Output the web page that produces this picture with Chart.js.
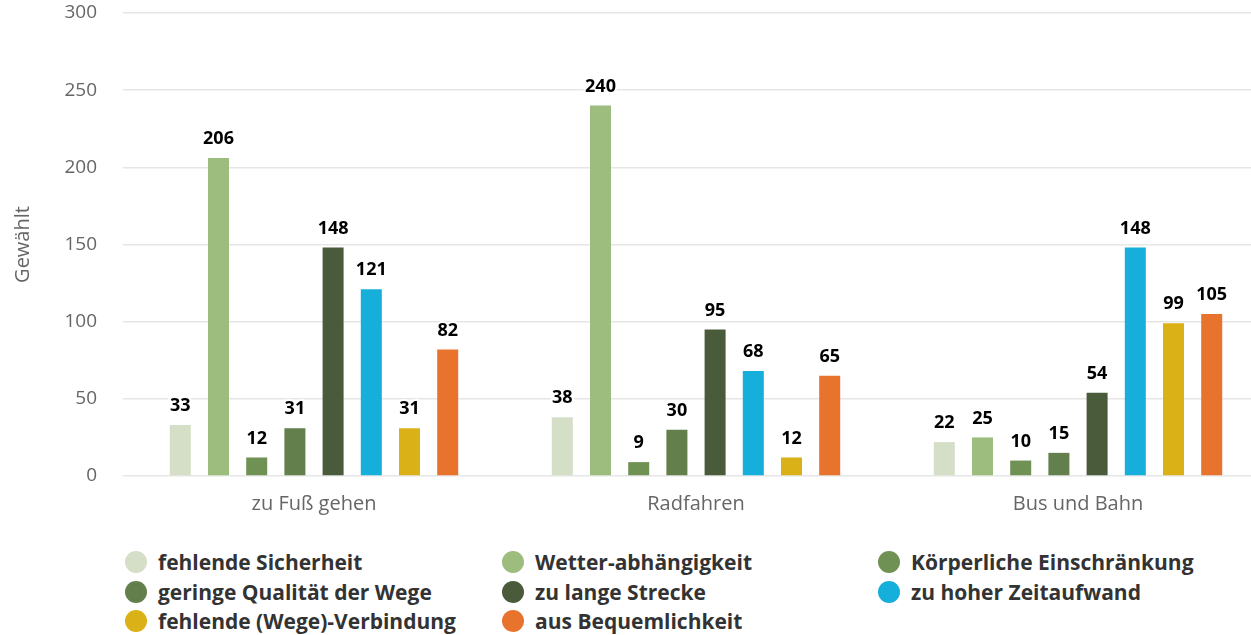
<!DOCTYPE html>
<html>
<head>
<meta charset="utf-8">
<script src="https://cdn.jsdelivr.net/npm/chart.js@4/dist/chart.umd.min.js"></script>
<style>
  body { margin: 0; background: #fff; overflow: hidden; font-family: "Open Sans", sans-serif; }
  #wrap { position: relative; width: 1269px; height: 530px; }
  #legend { position: absolute; left: 125px; top: 548px; width: 1126px; }
  .item { position: absolute; display: flex; align-items: center; font-weight: bold; font-size: 21px; color: #333; white-space: nowrap; }
  .dot { width: 22px; height: 22px; border-radius: 50%; margin-right: 11px; }
</style>
</head>
<body>
<div id="wrap"><canvas id="chart"></canvas></div>
<div id="legend"></div>
<script>
var categories = ['zu Fuß gehen', 'Radfahren', 'Bus und Bahn'];

var seriesNames = [
  'fehlende Sicherheit',
  'Wetter-abhängigkeit',
  'Körperliche Einschränkung',
  'geringe Qualität der Wege',
  'zu lange Strecke',
  'zu hoher Zeitaufwand',
  'fehlende (Wege)-Verbindung',
  'aus Bequemlichkeit'
];

var sicherheit  = [33, 38, 22];
var wetter      = [206, 240, 25];
var koerper     = [12, 9, 10];
var qualitaet   = [31, 30, 15];
var strecke     = [148, 95, 54];
var zeitaufwand = [121, 68, 148];
var verbindung  = [31, 12, 99];
var bequem      = [82, 65, 105];

var seriesValues = [sicherheit, wetter, koerper, qualitaet, strecke, zeitaufwand, verbindung, bequem];

var colours = ['#d5dfc7', '#9dbd7e', '#6f9254', '#637f4c', '#4a5b3c', '#16aedb', '#dbb118', '#e8732c'];

var yTicks = [0, 50, 100, 150, 200, 250, 300];

// value labels above each bar
var barValues = {
  id: 'barValues',
  afterDatasetsDraw: function(chart) {
    var ctx = chart.ctx;
    ctx.save();
    ctx.font = 'bold 18px "Open Sans"';
    ctx.textAlign = 'center';
    ctx.textBaseline = 'bottom';
    ctx.lineWidth = 4;
    ctx.strokeStyle = '#fff';
    ctx.fillStyle = '#000';
    chart.data.datasets.forEach(function(ds, i) {
      chart.getDatasetMeta(i).data.forEach(function(bar, j) {
        var txt = String(ds.data[j]);
        ctx.strokeText(txt, bar.x, bar.y - 10);
        ctx.fillText(txt, bar.x, bar.y - 10);
      });
    });
    ctx.restore();
  }
};

var datasets = [];
seriesNames.forEach(function(name, i) {
  datasets.push({
    label: name,
    data: seriesValues[i],
    backgroundColor: colours[i],
    borderWidth: 0,
    categoryPercentage: 0.8,
    barPercentage: 0.55
  });
});

var myChart = new Chart(document.getElementById('chart'), {
  type: 'bar',
  data: { labels: categories, datasets: datasets },
  plugins: [barValues],
  options: {
    responsive: true,
    maintainAspectRatio: false,
    animation: false,
    layout: { padding: { top: 13, left: 10, right: 0, bottom: 0 } },
    plugins: {
      legend: { display: false },
      tooltip: { enabled: false }
    },
    scales: {
      x: {
        afterFit: function(scale) { scale.height = 54; },
        grid: { display: false },
        border: { display: false },
        ticks: { color: '#666', font: { family: 'Open Sans', size: 20 }, padding: 8 }
      },
      y: {
        min: 0,
        max: 300,
        afterBuildTicks: function(scale) {
          scale.ticks = yTicks.map(function(v) { return { value: v }; });
        },
        afterFit: function(scale) {
          scale.width = 113;
          scale.paddingTop = 11;
          scale.paddingBottom = 11;
        },
        grid: { color: '#e6e6e6', lineWidth: 1.5, drawTicks: false },
        border: { display: false },
        ticks: { color: '#666', font: { family: 'Open Sans', size: 19 }, padding: 26 },
        title: {
          display: true,
          text: 'Gewählt',
          color: '#666',
          font: { family: 'Open Sans', size: 20 },
          padding: { top: 1, bottom: 0 }
        }
      }
    }
  }
});

// legend in three columns
var legend = document.getElementById('legend');
var colX = [0, 377, 753];
seriesNames.forEach(function(name, i) {
  var item = document.createElement('div');
  item.className = 'item';
  item.style.left = colX[i % 3] + 'px';
  item.style.top = (Math.floor(i / 3) * 29.5) + 'px';
  item.innerHTML = '<span class="dot" style="background:' + colours[i] + '"></span>' + name;
  legend.appendChild(item);
});
</script>
</body>
</html>
